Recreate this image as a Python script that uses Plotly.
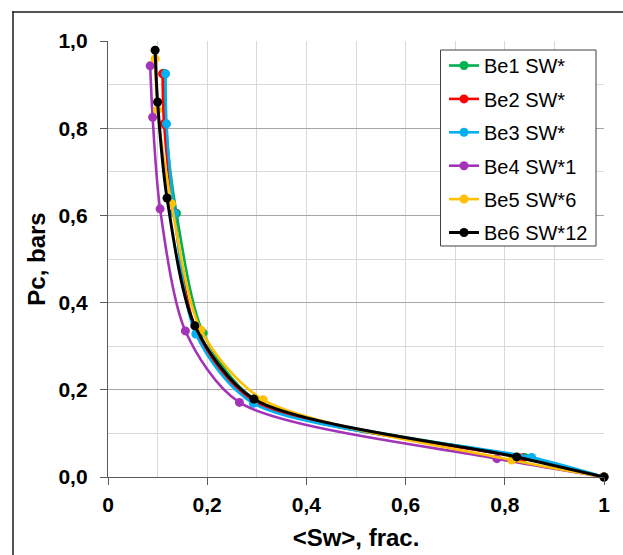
import plotly.graph_objects as go

# ---- data ----
series_names = ["Be1 SW*", "Be2 SW*", "Be3 SW*", "Be4 SW*1", "Be5 SW*6", "Be6 SW*12"]
series_colors = ["#00B050", "#FF0000", "#00B0F0", "#A334B8", "#FFC000", "#000000"]

be1_sw = [0.112, 0.116, 0.138, 0.192, 0.300, 0.840, 1.0]
be1_pc = [0.926, 0.810, 0.605, 0.330, 0.175, 0.045, 0.0]
be2_sw = [0.110, 0.113, 0.133, 0.180, 0.295, 0.835, 1.0]
be2_pc = [0.925, 0.810, 0.607, 0.330, 0.172, 0.044, 0.0]
be3_sw = [0.116, 0.118, 0.134, 0.177, 0.293, 0.854, 1.0]
be3_pc = [0.925, 0.810, 0.605, 0.328, 0.169, 0.045, 0.0]
be4_sw = [0.085, 0.090, 0.105, 0.156, 0.265, 0.784, 1.0]
be4_pc = [0.943, 0.825, 0.615, 0.335, 0.171, 0.042, 0.0]
be5_sw = [0.095, 0.100, 0.128, 0.1875, 0.313, 0.814, 1.0]
be5_pc = [0.959, 0.842, 0.627, 0.337, 0.177, 0.039, 0.0]
be6_sw = [0.095, 0.100, 0.119, 0.175, 0.294, 0.824, 1.0]
be6_pc = [0.979, 0.860, 0.640, 0.347, 0.179, 0.046, 0.0]

x_tick_vals = [0, 0.2, 0.4, 0.6, 0.8, 1.0]
x_tick_text = ["0", "0,2", "0,4", "0,6", "0,8", "1"]
y_tick_vals = [0, 0.2, 0.4, 0.6, 0.8, 1.0]
y_tick_text = ["0,0", "0,2", "0,4", "0,6", "0,8", "1,0"]

series = [(be1_sw, be1_pc), (be2_sw, be2_pc), (be3_sw, be3_pc),
          (be4_sw, be4_pc), (be5_sw, be5_pc), (be6_sw, be6_pc)]

FONT = "Liberation Sans, Arial, sans-serif"

fig = go.Figure()
for i, ((xs, ys), name, col) in enumerate(zip(series, series_names, series_colors)):
    fig.add_trace(go.Scatter(
        x=xs, y=ys, name=name, mode="lines+markers",
        line=dict(color=col, width=3 if i == 5 else 2.6, shape="spline", smoothing=0.8),
        marker=dict(color=col, size=9),
        legendgroup=f"g{i}", cliponaxis=False,
    ))

W, H = 623, 555
L, R, T, B = 108, 604, 41, 477          # plot-area edges in the picture

def px_x(p):
    return (p - L) / (R - L)

def px_y(p):
    return (B - p) / (B - T)

fig.update_layout(
    width=W, height=H,
    margin=dict(l=L, r=W - R, t=T, b=H - B, pad=0, autoexpand=False),
    plot_bgcolor="white", paper_bgcolor="white",
    font=dict(family=FONT, color="black"),
    showlegend=True,
    legend=dict(
        x=px_x(444), y=px_y(46), xanchor="left", yanchor="top",
        bgcolor="rgba(0,0,0,0)", borderwidth=0,
        font=dict(family=FONT, size=20, color="black"),
        tracegroupgap=4.4, itemwidth=30,
    ),
    xaxis=dict(
        range=[0, 1], tickvals=x_tick_vals, ticktext=x_tick_text,
        showgrid=True, gridcolor="#d9d9d9", gridwidth=1.3,
        minor=dict(dtick=0.1, showgrid=True, gridcolor="#d9d9d9", gridwidth=1.3, ticks=""),
        showline=True, linecolor="#595959", linewidth=1.3,
        ticks="outside", ticklen=7, tickcolor="#595959", tickwidth=1.3,
        ticklabelstandoff=2,
        tickfont=dict(family=FONT, size=21, color="black", weight="bold"),
        title=dict(text="&lt;Sw&gt;, frac.", standoff=13,
                   font=dict(family=FONT, size=24, color="black", weight="bold")),
        zeroline=False, automargin=False,
    ),
    yaxis=dict(
        range=[0, 1], tickvals=y_tick_vals, ticktext=y_tick_text,
        showgrid=True, gridcolor="#a6a6a6", gridwidth=1.3,
        minor=dict(dtick=0.1, showgrid=True, gridcolor="#d9d9d9", gridwidth=1.3, ticks=""),
        showline=True, linecolor="#595959", linewidth=1.3,
        ticks="outside", ticklen=7, tickcolor="#595959", tickwidth=1.3,
        ticklabelstandoff=8,
        tickfont=dict(family=FONT, size=21, color="black", weight="bold"),
        title=dict(text="Pc, bars", standoff=6,
                   font=dict(family=FONT, size=24, color="black", weight="bold")),
        zeroline=False, automargin=False,
    ),
)

# legend frame (white box with thin dark border) drawn behind the legend entries
fig.add_shape(
    type="rect", xref="paper", yref="paper",
    x0=px_x(440.5), x1=px_x(596), y0=px_y(246), y1=px_y(50),
    line=dict(color="#404040", width=1), fillcolor="white", layer="above",
)

# outer chart border: top and left edges (the others run past the picture)
fig.add_shape(
    type="line", xref="paper", yref="paper",
    x0=px_x(12.3), x1=px_x(640), y0=px_y(12), y1=px_y(12),
    line=dict(color="#1a1a1a", width=1.5), layer="above",
)
fig.add_shape(
    type="line", xref="paper", yref="paper",
    x0=px_x(13), x1=px_x(13), y0=px_y(11.3), y1=px_y(580),
    line=dict(color="#1a1a1a", width=1.5), layer="above",
)

# remove the page's default 8px body margin so the figure fills the window exactly
fig.write_html(
    "out.html",
    config={"displayModeBar": False},
    post_script="document.body.style.margin='0px';document.body.style.overflow='hidden';",
)
